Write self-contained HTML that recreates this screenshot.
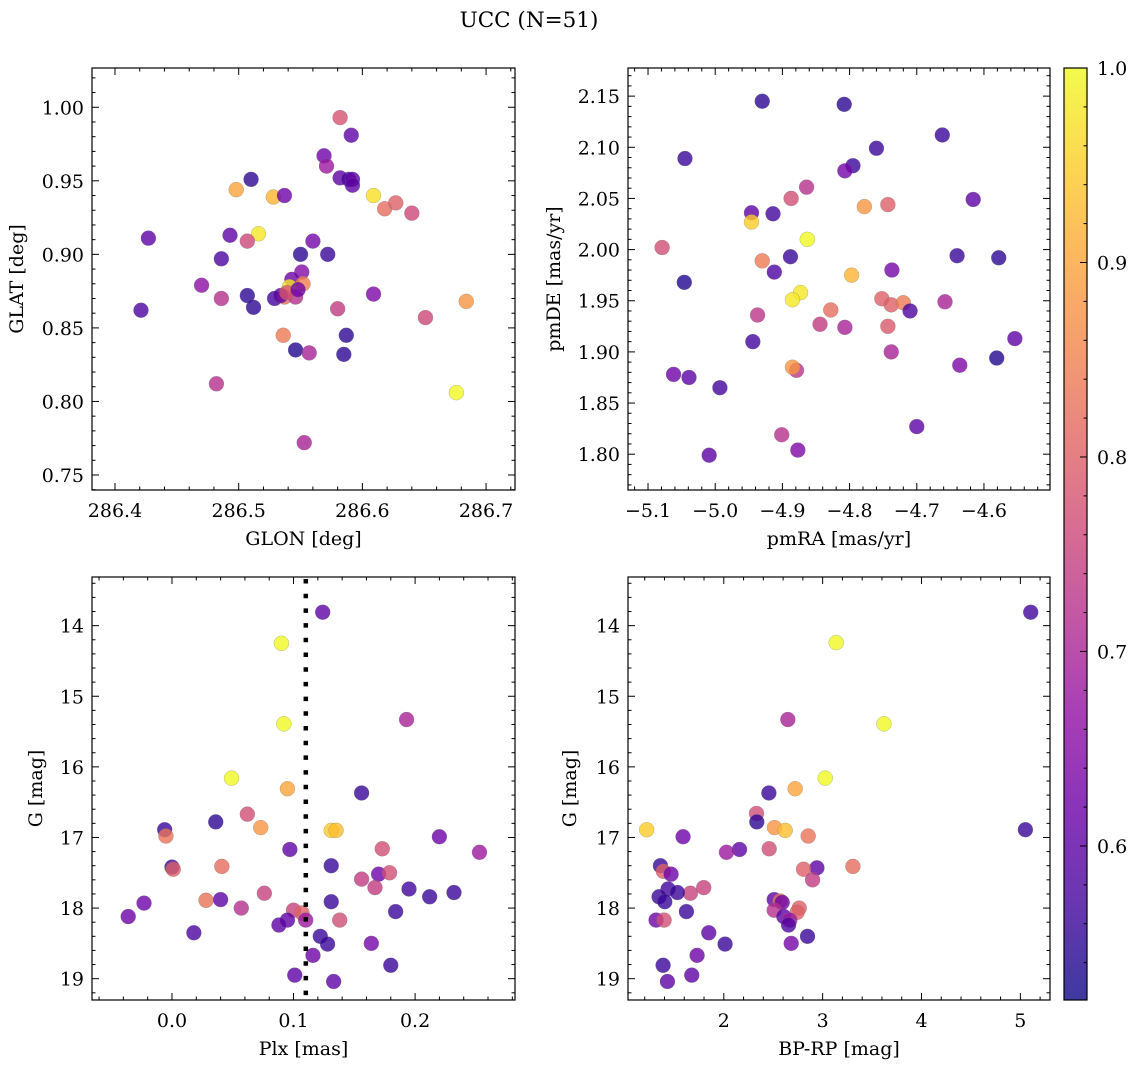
<!DOCTYPE html>
<html><head><meta charset="utf-8"><style>
html,body{margin:0;padding:0;background:#fff;}
svg{display:block;}
text{font-family:"DejaVu Serif","Liberation Serif",serif;fill:#000;}
</style></head>
<body>
<svg id="fig" width="1136" height="1067" viewBox="0 0 1136 1067" xmlns="http://www.w3.org/2000/svg">
<text x="529" y="27" font-size="21.5" text-anchor="middle">UCC (N=51)</text>
<defs>
<linearGradient id="cbgrad" x1="0" y1="1" x2="0" y2="0"></linearGradient>
</defs>
</svg>
<script>
// ---- Panel 1: GLON vs GLAT ----
const p1_glon = [286.582,286.591,286.569,286.571,286.582,286.589,286.592,286.592,286.510,286.498,286.528,286.537,286.609,286.618,286.627,286.640,286.427,286.493,286.516,286.507,286.560,286.550,286.572,286.486,286.551,286.543,286.552,286.541,286.470,286.486,286.507,286.529,286.537,286.546,286.512,286.609,286.580,286.684,286.651,286.421,286.536,286.587,286.546,286.557,286.585,286.482,286.676,286.553,286.534,286.539,286.548];
const p1_glat = [0.993,0.981,0.967,0.960,0.952,0.951,0.951,0.947,0.951,0.944,0.939,0.940,0.940,0.931,0.935,0.928,0.911,0.913,0.914,0.909,0.909,0.900,0.900,0.897,0.888,0.883,0.880,0.878,0.879,0.870,0.872,0.870,0.871,0.871,0.864,0.873,0.863,0.868,0.857,0.862,0.845,0.845,0.835,0.833,0.832,0.812,0.806,0.772,0.872,0.874,0.876];
const p1_prob = [0.78,0.60,0.62,0.68,0.60,0.58,0.60,0.60,0.55,0.90,0.92,0.62,0.97,0.82,0.80,0.76,0.60,0.60,0.98,0.76,0.63,0.55,0.56,0.58,0.65,0.62,0.85,0.98,0.66,0.72,0.55,0.57,0.82,0.72,0.55,0.64,0.74,0.88,0.76,0.58,0.84,0.55,0.54,0.70,0.55,0.72,1.00,0.70,0.60,0.78,0.62];
// ---- Panel 2: pmRA vs pmDE ----
const p2_pmra = [-4.930,-4.808,-4.662,-4.760,-5.045,-4.795,-4.807,-4.864,-4.887,-4.778,-4.743,-4.616,-4.946,-4.914,-4.946,-4.863,-5.079,-4.930,-4.888,-4.912,-4.640,-4.578,-4.737,-4.797,-5.046,-4.873,-4.885,-4.752,-4.738,-4.720,-4.710,-4.658,-4.828,-4.937,-4.844,-4.807,-4.743,-4.944,-4.554,-4.738,-4.581,-4.636,-5.062,-5.039,-4.879,-4.885,-4.993,-4.700,-4.901,-4.877,-5.009];
const p2_pmde = [2.145,2.142,2.112,2.099,2.089,2.082,2.077,2.061,2.050,2.042,2.044,2.049,2.036,2.035,2.027,2.010,2.002,1.989,1.993,1.978,1.994,1.992,1.980,1.975,1.968,1.958,1.951,1.952,1.946,1.948,1.940,1.949,1.941,1.936,1.927,1.924,1.925,1.910,1.913,1.900,1.894,1.887,1.878,1.875,1.882,1.885,1.865,1.827,1.819,1.804,1.799];
const p2_prob = [0.55,0.55,0.56,0.56,0.56,0.56,0.63,0.72,0.77,0.88,0.80,0.60,0.60,0.57,0.95,1.00,0.77,0.84,0.56,0.58,0.56,0.55,0.63,0.92,0.54,0.98,0.98,0.80,0.80,0.84,0.58,0.70,0.82,0.73,0.74,0.70,0.79,0.57,0.60,0.70,0.54,0.64,0.62,0.60,0.73,0.88,0.57,0.60,0.72,0.64,0.60];
// ---- Panel 3: Plx vs G ----
const p3_plx = [0.124,0.090,0.092,0.193,0.049,0.095,0.156,0.062,0.036,0.073,0.131,0.135,-0.006,-0.005,0.220,0.097,0.173,0.253,0.000,0.001,0.041,0.131,0.156,0.170,0.179,0.167,0.195,0.212,0.232,0.076,0.028,0.040,-0.023,0.131,0.057,0.100,0.107,0.184,-0.036,0.138,0.095,0.110,0.088,0.018,0.122,0.128,0.164,0.116,0.180,0.101,0.133];
const p3_g = [13.81,14.25,15.39,15.33,16.16,16.31,16.37,16.67,16.78,16.86,16.90,16.90,16.89,16.98,16.99,17.17,17.16,17.21,17.42,17.45,17.41,17.40,17.59,17.52,17.50,17.71,17.73,17.84,17.78,17.79,17.89,17.88,17.93,17.91,18.00,18.03,18.07,18.05,18.12,18.17,18.17,18.17,18.24,18.35,18.40,18.51,18.50,18.67,18.81,18.95,19.04];
const p3_prob = [0.60,1.00,1.00,0.70,1.00,0.90,0.56,0.77,0.55,0.88,0.95,0.93,0.56,0.83,0.62,0.60,0.77,0.68,0.56,0.80,0.82,0.56,0.74,0.62,0.77,0.74,0.57,0.56,0.56,0.75,0.83,0.60,0.62,0.56,0.72,0.75,0.80,0.56,0.62,0.77,0.60,0.68,0.60,0.58,0.56,0.56,0.63,0.62,0.56,0.60,0.60];
const plxLine = [0.1101];
// ---- Panel 4: BP-RP vs G ----
const p4_bprp = [5.105,3.137,3.620,2.648,3.026,2.722,2.456,2.331,2.334,2.513,2.621,1.220,5.051,2.854,1.588,2.159,2.459,2.027,1.359,1.389,3.306,2.942,2.807,2.898,1.467,1.436,1.797,1.662,1.531,1.345,1.403,2.510,2.570,2.591,2.510,2.763,2.742,1.622,1.315,1.396,2.607,2.668,2.655,1.848,2.847,2.013,2.682,1.730,1.386,1.676,1.430];
const p4_g = [13.81,14.24,15.39,15.33,16.16,16.31,16.37,16.66,16.78,16.86,16.90,16.89,16.89,16.98,16.99,17.17,17.16,17.21,17.40,17.48,17.41,17.43,17.45,17.60,17.52,17.73,17.71,17.79,17.78,17.84,17.91,17.88,17.90,17.92,18.03,18.00,18.06,18.05,18.17,18.17,18.12,18.17,18.24,18.35,18.40,18.51,18.50,18.67,18.81,18.95,19.04];
const p4_prob = [0.57,1.00,1.00,0.70,1.00,0.90,0.56,0.77,0.55,0.88,0.93,0.95,0.56,0.83,0.62,0.60,0.77,0.68,0.56,0.80,0.82,0.60,0.80,0.74,0.62,0.57,0.75,0.75,0.56,0.56,0.56,0.60,0.83,0.62,0.72,0.80,0.80,0.56,0.62,0.77,0.60,0.68,0.58,0.60,0.56,0.56,0.63,0.62,0.56,0.60,0.60];
// ---- Colorbar ----
const cbTicks = [0.6,0.7,0.8,0.9,1.0];
const cbLabels = ["0.6","0.7","0.8","0.9","1.0"];
const p1_xticks=[286.4,286.5,286.6,286.7], p1_xlabels=["286.4","286.5","286.6","286.7"];
const p1_yticks=[0.75,0.80,0.85,0.90,0.95,1.00], p1_ylabels=["0.75","0.80","0.85","0.90","0.95","1.00"];
const p2_xticks=[-5.1,-5.0,-4.9,-4.8,-4.7,-4.6], p2_xlabels=["−5.1","−5.0","−4.9","−4.8","−4.7","−4.6"];
const p2_yticks=[1.80,1.85,1.90,1.95,2.00,2.05,2.10,2.15], p2_ylabels=["1.80","1.85","1.90","1.95","2.00","2.05","2.10","2.15"];
const p3_xticks=[0.0,0.1,0.2], p3_xlabels=["0.0","0.1","0.2"];
const g_yticks=[14,15,16,17,18,19], g_ylabels=["14","15","16","17","18","19"];
const p4_xticks=[2,3,4,5], p4_xlabels=["2","3","4","5"];

const VMIN=0.5208, VMAX=1.0;
const FS=19;
const NS="http://www.w3.org/2000/svg";
const svg=document.getElementById('fig');
const plasma=[[13,8,135],[65,4,157],[106,0,168],[143,13,164],[177,42,144],[204,71,120],[225,100,98],[242,132,75],[252,166,54],[252,206,37],[240,249,33]];
function cmap(v){let t=(v-VMIN)/(VMAX-VMIN);t=Math.max(0,Math.min(1,t));const s=t*10;const i=Math.min(9,Math.floor(s));const f=s-i;const a=plasma[i],b=plasma[i+1];return 'rgb('+[0,1,2].map(k=>Math.round(a[k]+(b[k]-a[k])*f)).join(',')+')';}
function mk(tag,attrs,parent){const e=document.createElementNS(NS,tag);for(const k in attrs)e.setAttribute(k,attrs[k]);(parent||svg).appendChild(e);return e;}

function panel(o){
  const g=mk('g',{});
  
  
  const sx=v=>o.x0+(v-o.xmin)/(o.xmax-o.xmin)*(o.x1-o.x0);
  const sy=o.invert? (v=>o.y0+(v-o.ymin)/(o.ymax-o.ymin)*(o.y1-o.y0)) : (v=>o.y1-(v-o.ymin)/(o.ymax-o.ymin)*(o.y1-o.y0));
  const pts=mk('g',{},g);
  
  
  for(let i=0;i<o.xs.length;i++){
    const c=mk('circle',{cx:sx(o.xs[i]),cy:sy(o.ys[i]),r:7.5,fill:cmap(o.cs[i]),'fill-opacity':0.8,stroke:'#777','stroke-opacity':0.5,'stroke-width':0.5},pts);
    
    
  }
  if(o.vline){for(const v of o.vline){const l=mk('line',{x1:sx(v),x2:sx(v),y1:o.y0+2,y2:o.y1,stroke:'#000','stroke-width':4.5,'stroke-dasharray':'4.5 10.2'},g);
    
    }}
  const fr=mk('rect',{x:o.x0,y:o.y0,width:o.x1-o.x0,height:o.y1-o.y0,fill:'none',stroke:'#000','stroke-width':1.2},g);
  
  
  const tk=mk('g',{stroke:'#000','stroke-width':1},g);
  const xmn=Math.ceil(o.xmin/o.xminor-1e-9);const xmx=Math.floor(o.xmax/o.xminor+1e-9);
  for(let k=xmn;k<=xmx;k++){const v=k*o.xminor;const X=sx(v);const maj=o.xt.some(t=>Math.abs(t-v)<o.xminor*0.1);const L=maj?7:3.5;
    mk('line',{x1:X,x2:X,y1:o.y1,y2:o.y1-L},tk);mk('line',{x1:X,x2:X,y1:o.y0,y2:o.y0+L},tk);}
  const ymn=Math.ceil(o.ymin/o.yminor-1e-9);const ymx=Math.floor(o.ymax/o.yminor+1e-9);
  for(let k=ymn;k<=ymx;k++){const v=k*o.yminor;const Y=sy(v);const maj=o.yt.some(t=>Math.abs(t-v)<o.yminor*0.1);const L=maj?7:3.5;
    mk('line',{x1:o.x0,x2:o.x0+L,y1:Y,y2:Y},tk);mk('line',{x1:o.x1,x2:o.x1-L,y1:Y,y2:Y},tk);}
  o.xt.forEach((v,i)=>{const t=mk('text',{x:sx(v),y:o.y1+27,'font-size':FS,'text-anchor':'middle'},g);t.textContent=o.xl[i];
    
    });
  o.yt.forEach((v,i)=>{const t=mk('text',{x:o.x0-8,y:sy(v)+7,'font-size':FS,'text-anchor':'end'},g);t.textContent=o.yl[i];
    
    });
  const xt=mk('text',{x:(o.x0+o.x1)/2,y:o.y1+55,'font-size':FS,'text-anchor':'middle'},g);xt.textContent=o.xtitle;
  
  
  const cy=(o.y0+o.y1)/2;
  const yt=mk('text',{x:o.ytx,y:cy,'font-size':FS,'text-anchor':'middle',transform:'rotate(-90 '+o.ytx+' '+cy+')'},g);yt.textContent=o.ytitle;
  
  
}

panel({name:'glon-glat-panel',x0:92,x1:515,y0:68,y1:490,xmin:286.3814,xmax:286.7234,ymin:0.7398,ymax:1.0267,xs:p1_glon,ys:p1_glat,cs:p1_prob,xt:p1_xticks,xl:p1_xlabels,yt:p1_yticks,yl:p1_ylabels,xminor:0.02,yminor:0.01,xtitle:'GLON [deg]',ytitle:'GLAT [deg]',ytx:23});
panel({name:'pm-panel',x0:628,x1:1050,y0:68,y1:490,xmin:-5.1298,xmax:-4.5017,ymin:1.765,ymax:2.1775,xs:p2_pmra,ys:p2_pmde,cs:p2_prob,xt:p2_xticks,xl:p2_xlabels,yt:p2_yticks,yl:p2_ylabels,xminor:0.02,yminor:0.01,xtitle:'pmRA [mas/yr]',ytitle:'pmDE [mas/yr]',ytx:560});
panel({name:'plx-g-panel',x0:92,x1:515,y0:577,y1:1000,xmin:-0.0658,xmax:0.2822,ymin:13.311,ymax:19.302,invert:true,xs:p3_plx,ys:p3_g,cs:p3_prob,xt:p3_xticks,xl:p3_xlabels,yt:g_yticks,yl:g_ylabels,xminor:0.02,yminor:0.2,xtitle:'Plx [mas]',ytitle:'G [mag]',ytx:42,vline:plxLine});
panel({name:'cmd-panel',x0:628,x1:1050,y0:577,y1:1000,xmin:1.031,xmax:5.300,ymin:13.311,ymax:19.302,invert:true,xs:p4_bprp,ys:p4_g,cs:p4_prob,xt:p4_xticks,xl:p4_xlabels,yt:g_yticks,yl:g_ylabels,xminor:0.2,yminor:0.2,xtitle:'BP-RP [mag]',ytitle:'G [mag]',ytx:576});

(function(){
  const grad=document.getElementById('cbgrad');
  for(let i=0;i<=10;i++){const s=document.createElementNS(NS,'stop');s.setAttribute('offset',(i*10)+'%');s.setAttribute('stop-color','rgb('+plasma[i].join(',')+')');grad.appendChild(s);}
  const x0=1064,x1=1087,y0=68,y1=1000;
  const g=mk('g',{});
  
  
  mk('rect',{x:x0,y:y0,width:x1-x0,height:y1-y0,fill:'url(#cbgrad)','fill-opacity':0.8},g);
  mk('rect',{x:x0,y:y0,width:x1-x0,height:y1-y0,fill:'none',stroke:'#000','stroke-width':1.2},g);
  const sy=v=>y1-(v-VMIN)/(VMAX-VMIN)*(y1-y0);
  for(let k=27;k<=50;k++){const v=k*0.02;if(v<VMIN||v>VMAX+1e-9)continue;const maj=Math.abs(v*10-Math.round(v*10))<1e-6;
    mk('line',{x1:x1,x2:x1-(maj?7:3.5),y1:sy(v),y2:sy(v),stroke:'#000','stroke-width':1},g);}
  cbTicks.forEach((v,i)=>{const t=mk('text',{x:x1+10,y:sy(v)+7,'font-size':FS},g);t.textContent=cbLabels[i];
    
    });
})();
</script>
</body></html>
